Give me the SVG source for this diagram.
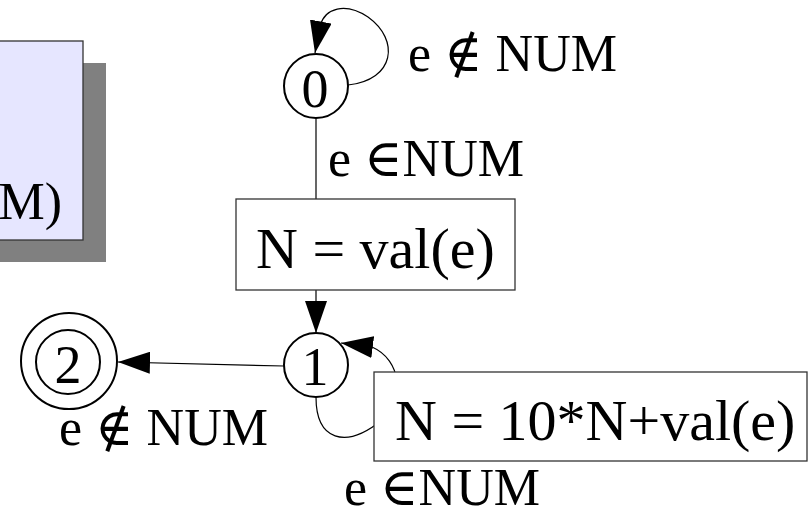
<svg xmlns="http://www.w3.org/2000/svg" width="812" height="516" viewBox="0 0 812 516">
  <style>
    .t { font-family: "Liberation Serif", "DejaVu Serif", serif; fill: #000; }
    .lbl { font-size: 52px; }
    .num { font-size: 54px; text-anchor: middle; }
    .act { font-size: 58px; }
    .state { fill: #fff; stroke: #000; stroke-width: 2; }
    .box { fill: #fff; stroke: #333; stroke-width: 1.3; }
    .edge { fill: none; stroke: #000; stroke-width: 1.2; }
  </style>
  <defs>
    <marker id="arr" markerUnits="userSpaceOnUse" viewBox="0 0 32 22" markerWidth="32" markerHeight="22" refX="32" refY="11" orient="auto">
      <path d="M0,0 L32,11 L0,22 z" fill="#000"/>
    </marker>
  </defs>
  <rect width="812" height="516" fill="#fff"/>

  <g id="note">
    <rect x="-10" y="63" width="116" height="199" fill="#808080"/>
    <rect x="-10" y="41" width="93" height="199" fill="#e6e6ff" stroke="#333" stroke-width="1.3"/>
    <text class="t lbl" x="62" y="219" text-anchor="end">M)</text>
  </g>

  <g id="connectors">
    <path class="edge" d="M316 118 L316 199"/>
    <path class="edge" d="M316 290 L316 333" marker-end="url(#arr)"/>
    <path class="edge" d="M284 366 L118 362" marker-end="url(#arr)"/>
    <path class="edge" d="M348 85 C395 80 400 40 368 17 C345 2 325 8 320 26 L315 53" marker-end="url(#arr)"/>
    <path class="edge" d="M316 397 C316 440 345 450 382 420 C405 400 402 360 372 347 L341 343" marker-end="url(#arr)"/>
  </g>

  <g id="labels">
    <text class="t lbl" x="408" y="71">e ∉ NUM</text>
    <text class="t lbl" x="328" y="176">e ∈NUM</text>
    <text class="t lbl" x="59" y="445">e ∉ NUM</text>
    <text class="t lbl" x="344" y="505">e ∈NUM</text>
  </g>

  <g id="state0">
    <circle class="state" cx="316" cy="86" r="32"/>
    <text class="t num" x="315" y="107">0</text>
  </g>
  <g id="state1">
    <circle class="state" cx="316" cy="365" r="32"/>
    <text class="t num" x="315" y="385">1</text>
  </g>
  <g id="state2">
    <circle class="state" cx="69" cy="361" r="48"/>
    <circle class="state" cx="68" cy="362" r="32"/>
    <text class="t num" x="68" y="383">2</text>
  </g>

  <g id="action1">
    <rect class="box" x="236" y="199" width="279" height="91"/>
    <text class="t act" x="256" y="268">N = val(e)</text>
  </g>
  <g id="action2">
    <rect class="box" x="374" y="372" width="433" height="89"/>
    <text class="t act" x="395" y="440">N = 10*N+val(e)</text>
  </g>
</svg>
